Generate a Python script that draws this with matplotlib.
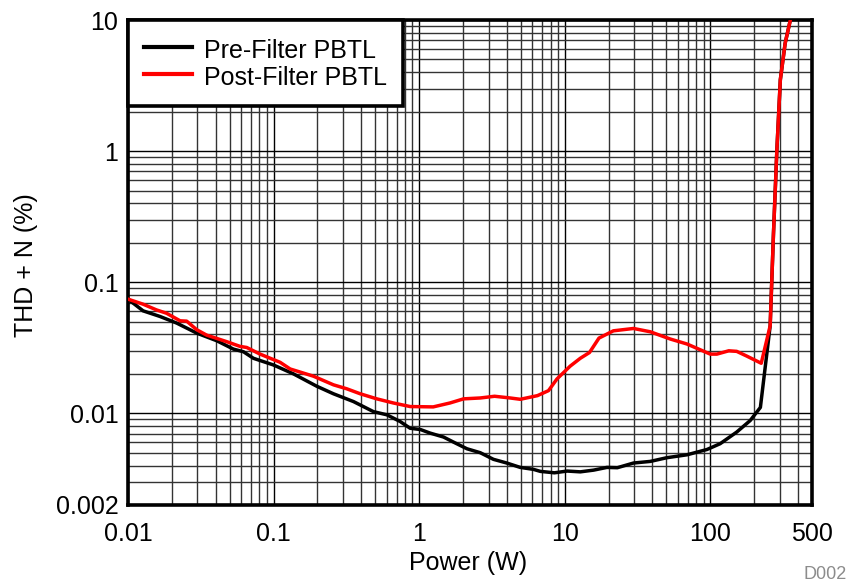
import matplotlib
matplotlib.use("Agg")
import matplotlib.pyplot as plt
from matplotlib.ticker import FixedLocator, NullFormatter, LogLocator

plt.rcParams['font.family'] = ['Liberation Sans', 'DejaVu Sans']

# Pre-Filter PBTL (black)
pre_x = [0.01, 0.0127, 0.0166, 0.0216, 0.0297, 0.0407, 0.053, 0.0621, 0.0727, 0.0997,
         0.137, 0.198, 0.258, 0.354, 0.486, 0.6, 0.74, 0.867, 1.02, 1.19, 1.47, 1.72,
         2.13, 2.63, 3.24, 4.0, 4.95, 6.1, 6.8, 8.5, 10.4, 12.8, 15.8, 19.5, 23, 29.7,
         38.7, 50.4, 69.2, 94.9, 117, 152, 188, 221, 258, 272, 287, 303, 327, 355]
pre_y = [0.0743, 0.0605, 0.0548, 0.0488, 0.0409, 0.0358, 0.0309, 0.0295, 0.0263, 0.0234,
         0.0200, 0.0161, 0.0141, 0.0123, 0.0103, 0.00975, 0.00867, 0.0077, 0.00753, 0.00707,
         0.0066, 0.00604, 0.00537, 0.00501, 0.00446, 0.00418, 0.00387, 0.00374, 0.00361,
         0.00352, 0.00363, 0.00358, 0.00369, 0.00387, 0.00385, 0.00418, 0.0043, 0.00459,
         0.00483, 0.0053, 0.00587, 0.0072, 0.00881, 0.0111, 0.0466, 0.239, 1.03, 3.5, 6.65, 10.0]

# Post-Filter PBTL (red)
post_x = [0.01, 0.0127, 0.0157, 0.0184, 0.0228, 0.0253, 0.0297, 0.0347, 0.0477, 0.0589,
          0.0654, 0.0808, 0.111, 0.13, 0.188, 0.258, 0.318, 0.394, 0.512, 0.665, 0.867,
          1.25, 1.63, 2.02, 2.63, 3.3, 4.22, 4.95, 6.5, 7.74, 8.85, 10.9, 12.8, 14.8,
          17.2, 21.6, 29.7, 38.7, 53.1, 69.2, 100, 111, 134, 152, 178.6, 224, 258,
          272, 287, 303, 327, 355]
post_y = [0.0743, 0.068, 0.0615, 0.058, 0.0508, 0.0505, 0.0434, 0.0395, 0.0352, 0.0324,
          0.0318, 0.0283, 0.0245, 0.0218, 0.0192, 0.0165, 0.0154, 0.0141, 0.0129, 0.012,
          0.01127, 0.0112, 0.012, 0.0129, 0.0131, 0.0135, 0.0131, 0.0128, 0.01365, 0.0149,
          0.0183, 0.0229, 0.0263, 0.0291, 0.0375, 0.0426, 0.0444, 0.0419, 0.0369, 0.0338,
          0.0283, 0.0283, 0.030, 0.0297, 0.0273, 0.0241, 0.0466, 0.239, 1.03, 3.5, 6.65, 10.0]

x_ticks = [0.01, 0.1, 1, 10, 100, 500]
x_ticklabels = ['0.01', '0.1', '1', '10', '100', '500']
y_ticks = [0.002, 0.01, 0.1, 1, 10]
y_ticklabels = ['0.002', '0.01', '0.1', '1', '10']

FS = 18
W, H = 852, 584
fig = plt.figure(figsize=(W / 100, H / 100), dpi=100)
ax = fig.add_axes([128 / W, 1 - 505 / H, (812 - 128) / W, (505 - 20) / H])

ax.set_xscale('log')
ax.set_yscale('log')
ax.set_xlim(0.01, 500)
ax.set_ylim(0.002, 10)

ax.xaxis.set_major_locator(FixedLocator(x_ticks))
ax.set_xticklabels(x_ticklabels)
ax.yaxis.set_major_locator(FixedLocator(y_ticks))
ax.set_yticklabels(y_ticklabels)
ax.xaxis.set_minor_locator(LogLocator(base=10, subs=range(1, 10), numticks=20))
ax.yaxis.set_minor_locator(LogLocator(base=10, subs=range(1, 10), numticks=20))
ax.xaxis.set_minor_formatter(NullFormatter())
ax.yaxis.set_minor_formatter(NullFormatter())

ax.grid(True, which='major', color='black', linewidth=1.0)
ax.grid(True, which='minor', color='#333333', linewidth=1.0)
ax.set_axisbelow(True)

ax.tick_params(which='both', length=0, labelsize=FS)
ax.tick_params(axis='x', pad=12)
ax.tick_params(axis='y', pad=7)

for s in ax.spines.values():
    s.set_linewidth(2.6)
    s.set_color('black')

ax.plot(pre_x, pre_y, color='black', linewidth=2.5, label='Pre-Filter PBTL', zorder=3)
ax.plot(post_x, post_y, color='#ff0000', linewidth=2.5, label='Post-Filter PBTL', zorder=4)

leg = ax.legend(loc='upper left', bbox_to_anchor=(0, 1), borderaxespad=0,
                fancybox=False, framealpha=1, edgecolor='black', fontsize=FS,
                handlelength=1.92, handletextpad=0.52, borderpad=0.62,
                labelspacing=0.0, handleheight=1.3)
leg.get_frame().set_linewidth(2.6)
leg.set_zorder(10)
for line in leg.get_lines():
    line.set_linewidth(3.0)

fig.text(26 / W, 1 - 265 / H, 'THD + N (%)', rotation=90, ha='center', va='center', fontsize=FS)
fig.text(468 / W, 1 - 570 / H, 'Power (W)', ha='center', va='baseline', fontsize=FS)
fig.text(847 / W, 1 - 579 / H, 'D002', ha='right', va='baseline', fontsize=13, color='#8c8c8c')

fig.savefig('out.png', dpi=100)
